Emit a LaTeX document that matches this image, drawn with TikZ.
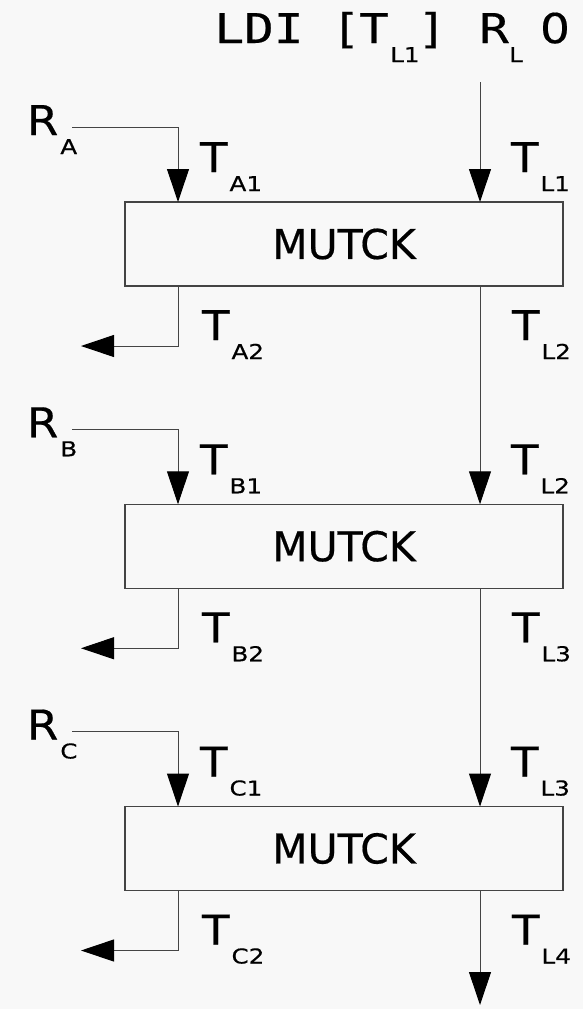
\documentclass[tikz,border=0pt]{standalone}
\usepackage{fontspec}
\setmainfont{DejaVu Sans}[FakeBold=0.4]
\newfontfamily\monofnt{DejaVu Sans Mono}[FakeBold=0.4]
\usetikzlibrary{arrows.meta}
\definecolor{bg}{HTML}{F8F8F8}
\definecolor{ln}{HTML}{444444}
\newcommand\bigsz{\fontsize{41}{41}\selectfont}
\newcommand\subsz{\fontsize{20.5}{20.5}\selectfont}
\newcommand\wide[1]{\scalebox{1.2}[1]{#1}}
% letter with a lowered, slightly widened subscript
\newcommand\lab[2]{\scalebox{1.1}[1]{#1}\kern2pt\raisebox{-19pt}{\subsz\wide{#2}}}

\begin{document}
\begin{tikzpicture}[x=1pt,y=-1pt,
  every node/.style={inner sep=0pt, outer sep=0pt},
  blk/.style={draw=ln, line width=1.2pt, minimum width=438pt, minimum height=84pt, font=\bigsz},
  lbl/.style={anchor=base west, font=\bigsz},
  mono/.style={anchor=base, font=\monofnt\bigsz},
  sub/.style={anchor=base, font=\subsz},
  wire/.style={draw=ln, line width=1pt},
  arr/.style={wire, -{Triangle[length=33pt,width=22pt,black]}}]

  % canvas
  \fill[bg] (0,0) rectangle (583,1009);
  \useasboundingbox (0,0) rectangle (583,1009);

  % instruction line
  \node[mono] (ldi) at (259,43) {\wide{LDI}};
  \node[mono] (lbr) at (346,43) {\wide{[}};
  \node[mono] (ldit) at (374,43) {\wide{T}};
  \node[sub] (ldisub) at (405,62) {\wide{L1}};
  \node[mono] (rbr) at (432,43) {\wide{]}};
  \node[mono] (rl) at (494,43) {\wide{R}};
  \node[sub] (rlsub) at (516,62) {\wide{L}};
  \node[anchor=base, font=\bigsz] (zero) at (555,43) {\scalebox{1.15}[1]{0}};

  \coordinate (top) at (480,82);
  \coordinate (bot) at (480,1005);

  \foreach \k/\s/\a/\b in {0/A/1/2, 1/B/2/3, 2/C/3/4} {
    \pgfmathsetmacro\dy{302.25*\k}
    \node[blk] (m\k) at (344,{244+\dy}) {MUTCK};
    % register input
    \node[lbl] (r\k) at (27,{135+\dy}) {\lab{R}{\s}};
    \coordinate (in\k) at (72,{127+\dy});
    \draw[arr] (in\k) -| ([xshift=53pt]m\k.north west);
    % left output
    \coordinate (out\k) at (81,{346+\dy});
    \draw[arr] ([xshift=53pt]m\k.south west) |- (out\k);
    % labels
    \node[lbl] (ta\k) at (200,{172+\dy}) {\lab{T}{\s1}};
    \node[lbl] (tb\k) at (202,{340+\dy}) {\lab{T}{\s2}};
    \node[lbl] (la\k) at (511,{172+\dy}) {\lab{T}{L\a}};
    \node[lbl] (lb\k) at (512,{340+\dy}) {\lab{T}{L\b}};
  }

  % right-hand chain
  \draw[arr] (top) -- ([xshift=355pt]m0.north west);
  \draw[arr] ([xshift=355pt]m0.south west) -- ([xshift=355pt]m1.north west);
  \draw[arr] ([xshift=355pt]m1.south west) -- ([xshift=355pt]m2.north west);
  \draw[arr] ([xshift=355pt]m2.south west) -- (bot);
\end{tikzpicture}
\end{document}
